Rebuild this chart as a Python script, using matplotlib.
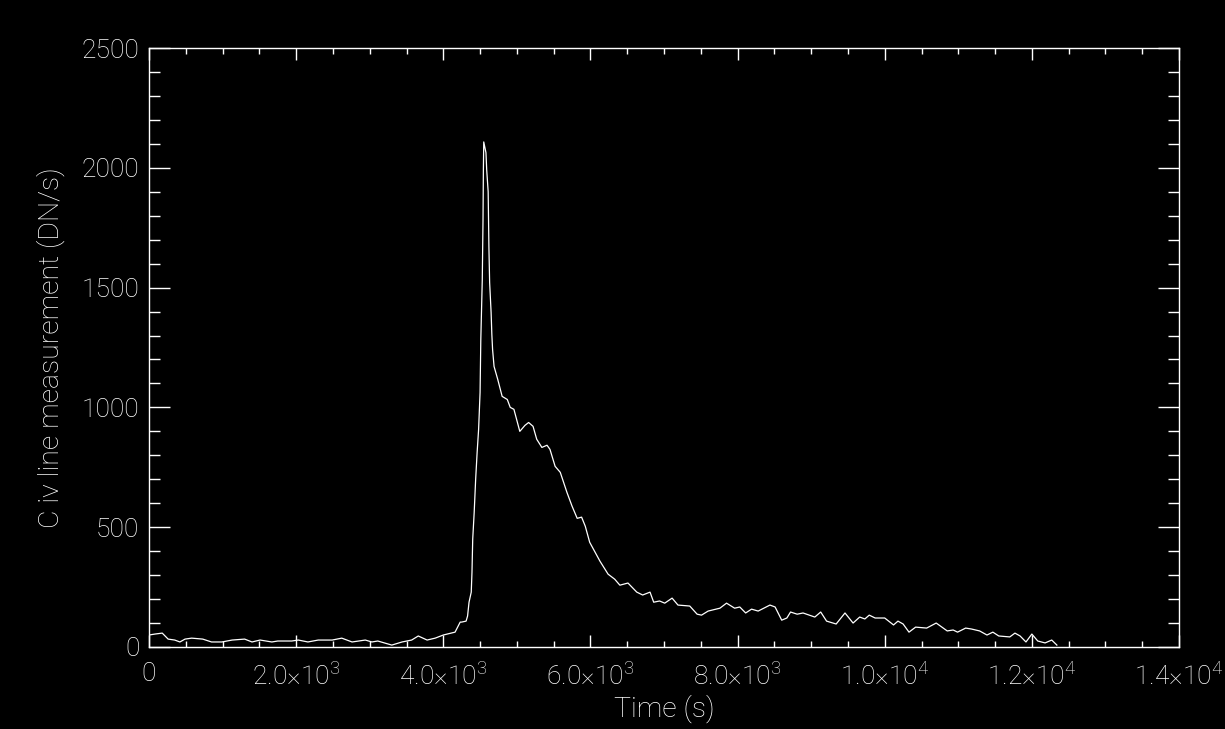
import numpy as np
import matplotlib
matplotlib.use("Agg")
import matplotlib.pyplot as plt
from matplotlib.ticker import MultipleLocator, FixedLocator

# C iv light curve (time in s, DN/s)
time_s = [0, 80, 180, 260, 350, 420, 490, 580, 730, 850, 990, 1130, 1300, 1400,
          1510, 1670, 1750, 1940, 2030, 2160, 2300, 2490, 2620, 2760, 2940, 3030,
          3110, 3300, 3440, 3570, 3660, 3780, 3890, 4000, 4160, 4230, 4250, 4310,
          4330, 4350, 4380, 4390, 4400, 4420, 4440, 4460, 4480, 4500, 4510, 4530,
          4540, 4545, 4550, 4580, 4590, 4610, 4620, 4630, 4650, 4660, 4670, 4690,
          4740, 4800, 4870, 4910, 4960, 5040, 5110, 5160, 5220, 5270, 5340, 5410,
          5450, 5520, 5590, 5680, 5750, 5820, 5880, 5930, 5990, 6130, 6240, 6330,
          6400, 6510, 6630, 6710, 6810, 6860, 6940, 7010, 7110, 7190, 7350, 7450,
          7510, 7600, 7760, 7850, 7960, 8030, 8110, 8190, 8280, 8440, 8510, 8600,
          8670, 8720, 8810, 8890, 9050, 9130, 9210, 9340, 9460, 9570, 9660, 9730,
          9790, 9870, 10000, 10070, 10120, 10180, 10250, 10330, 10420, 10570, 10700,
          10850, 10930, 10990, 11100, 11180, 11290, 11390, 11470, 11550, 11700,
          11770, 11840, 11920, 12000, 12080, 12180, 12270, 12340]
civ = [50, 54, 58, 33, 29, 21, 33, 37, 33, 21, 21, 29, 33, 21,
       29, 21, 25, 25, 29, 21, 29, 29, 37, 21, 29, 21,
       25, 8, 21, 29, 46, 29, 37, 50, 62, 104, 104, 108,
       129, 187, 229, 312, 450, 562, 700, 812, 908, 1062, 1283, 1533,
       1783, 1992, 2108, 2063, 1992, 1900, 1671, 1521, 1396, 1304, 1242, 1171,
       1117, 1046, 1033, 1000, 992, 900, 925, 937, 921, 867, 833, 842,
       825, 754, 729, 646, 588, 537, 542, 504, 437, 358, 304, 283,
       258, 267, 229, 217, 229, 187, 192, 183, 204, 175, 171, 137,
       133, 150, 162, 183, 162, 167, 142, 158, 150, 175, 167, 112,
       121, 146, 137, 142, 125, 146, 108, 96, 142, 100, 125, 117,
       133, 121, 121, 104, 92, 108, 96, 62, 83, 79, 100,
       67, 71, 62, 79, 75, 67, 50, 62, 46, 42,
       58, 46, 21, 54, 25, 17, 29, 8]

x_ticks = [0, 2000, 4000, 6000, 8000, 10000, 12000, 14000]
x_labels = ["0", r"2.0×10$^{\mathregular{3}}$", r"4.0×10$^{\mathregular{3}}$",
            r"6.0×10$^{\mathregular{3}}$", r"8.0×10$^{\mathregular{3}}$",
            r"1.0×10$^{\mathregular{4}}$", r"1.2×10$^{\mathregular{4}}$",
            r"1.4×10$^{\mathregular{4}}$"]
y_ticks = [0, 500, 1000, 1500, 2000, 2500]

plt.rcParams["font.family"] = ["Roboto", "DejaVu Sans"]
plt.rcParams["font.weight"] = "light"
plt.rcParams["axes.labelweight"] = "light"

fig = plt.figure(figsize=(12.25, 7.29), dpi=100, facecolor="black")
ax = fig.add_axes([149 / 1225, 1 - 647 / 729, 1030 / 1225, 599 / 729])
ax.set_facecolor("black")

ax.plot(time_s, civ, color="white", lw=0.9)

ax.set_xlim(0, 14000)
ax.set_ylim(0, 2500)
ax.xaxis.set_major_locator(FixedLocator(x_ticks))
ax.set_xticklabels(x_labels)
ax.xaxis.set_minor_locator(MultipleLocator(500))
ax.yaxis.set_major_locator(FixedLocator(y_ticks))
ax.yaxis.set_minor_locator(MultipleLocator(100))

for s in ax.spines.values():
    s.set_color("white")
    s.set_linewidth(1.0)

ax.tick_params(axis="both", which="both", direction="in", colors="white",
               top=True, right=True, width=1.0, labelsize=19)
ax.tick_params(axis="x", which="major", length=8.6, pad=11)
ax.tick_params(axis="x", which="minor", length=4.6)
ax.tick_params(axis="y", which="major", length=15, pad=7)
ax.tick_params(axis="y", which="minor", length=7.8)

ax.set_xlabel("Time (s)", color="white", fontsize=20.5, fontweight="light",
              labelpad=4)
ax.set_ylabel("C iv line measurement (DN/s)", color="white", fontsize=20.5,
              fontweight="light", labelpad=12)

fig.savefig("out.png", dpi=100, facecolor="black")
